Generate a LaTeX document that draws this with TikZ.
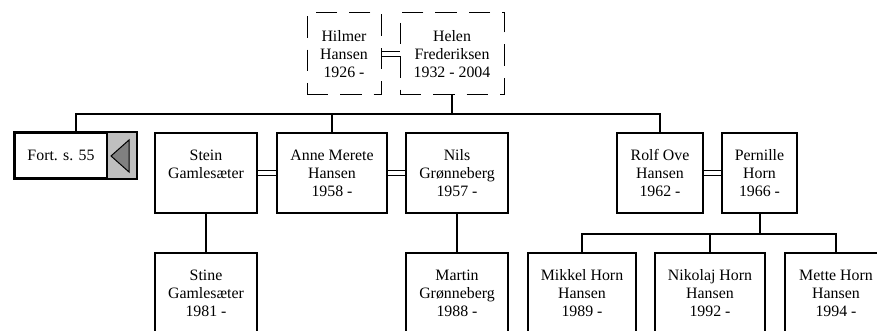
\documentclass[tikz,border=0pt]{standalone}
\usepackage{fontspec}
\setmainfont{Liberation Serif}
\begin{document}
\begin{tikzpicture}[x=0.75pt,y=-0.75pt,
  every node/.style={font=\fontsize{11.9pt}{13.5pt}\selectfont, align=center, inner sep=0pt},
  pbox/.style={draw, line width=1.5pt, minimum height=60pt},
  dbox/.style={draw, line width=0.75pt, dash pattern=on 16pt off 9pt, minimum height=61.5pt},
  conn/.style={line width=1.5pt},
  marr/.style={line width=1.4pt}]
\useasboundingbox (0,0) rectangle (877,331);
% grandparents
\node[dbox, minimum width=55.5pt] (hilmer) at (344,54) {Hilmer\\Hansen\\1926 -};
\node[dbox, minimum width=78pt] (helen) at (452,54) {Helen\\Frederiksen\\1932 - 2004};
% generation 2
\node[pbox, minimum width=76.5pt] (stein) at (206,173) {Stein\\Gamlesæter\\~};
\node[pbox, minimum width=82.5pt] (anne) at (332,173) {Anne Merete\\Hansen\\1958 -};
\node[pbox, minimum width=76.5pt] (nils) at (457,173) {Nils\\Grønneberg\\1957 -};
\node[pbox, minimum width=64.5pt] (rolf) at (660,173) {Rolf Ove\\Hansen\\1962 -};
\node[pbox, minimum width=56.25pt] (pernille) at (759.5,173) {Pernille\\Horn\\1966 -};
% Fort box
\node[draw, line width=1.5pt, minimum width=90.75pt, minimum height=33.75pt] (fort) at (75.5,155.5) {};
\node (forttext) at (61,155.5) {Fort. s. 55};
\fill[gray!50] (107,133) rectangle (136,178);
\draw[line width=1.5pt] (107,133) -- (107,178);
\draw[line width=1.5pt] (fort.north west) rectangle (fort.south east);
\filldraw[fill=gray, draw=black, line width=0.75pt] (111,156) -- (129,140) -- (129,172) -- cycle;
% generation 3
\node[pbox, minimum width=76.5pt] (stine) at (206,293) {Stine\\Gamlesæter\\1981 -};
\node[pbox, minimum width=76.5pt] (martin) at (457,293) {Martin\\Grønneberg\\1988 -};
\node[pbox, minimum width=81pt] (mikkel) at (582,293) {Mikkel Horn\\Hansen\\1989 -};
\node[pbox, minimum width=82.5pt] (nikolaj) at (710,293) {Nikolaj Horn\\Hansen\\1992 -};
\node[pbox, minimum width=76.5pt] (mette) at (836,293) {Mette Horn\\Hansen\\1994 -};
% marriages
\draw[line width=0.75pt] ([yshift=1.9pt]hilmer.east) -- ([yshift=1.9pt]helen.west);
\draw[line width=0.75pt] ([yshift=-1.9pt]hilmer.east) -- ([yshift=-1.9pt]helen.west);
\foreach \a/\b in {stein/anne, anne/nils, rolf/pernille}{
  \draw[marr] ([yshift=1.9pt]\a.east) -- ([yshift=1.9pt]\b.west);
  \draw[marr] ([yshift=-1.9pt]\a.east) -- ([yshift=-1.9pt]\b.west);
}
% descent
\coordinate (bar) at (0,114);
\draw[conn] (helen.south) -- (helen.south |- bar);
\draw[conn] (fort.north) -- (fort.north |- bar) -- (rolf.north |- bar) -- (rolf.north);
\draw[conn] (anne.north) -- (anne.north |- bar);
\draw[conn] (stein.south) -- (stine.north);
\draw[conn] (nils.south) -- (martin.north);
\coordinate (bar2) at (0,234);
\draw[conn] (pernille.south) -- (pernille.south |- bar2);
\draw[conn] (mikkel.north) -- (mikkel.north |- bar2) -- (mette.north |- bar2) -- (mette.north);
\draw[conn] (nikolaj.north) -- (nikolaj.north |- bar2);
\end{tikzpicture}
\end{document}
